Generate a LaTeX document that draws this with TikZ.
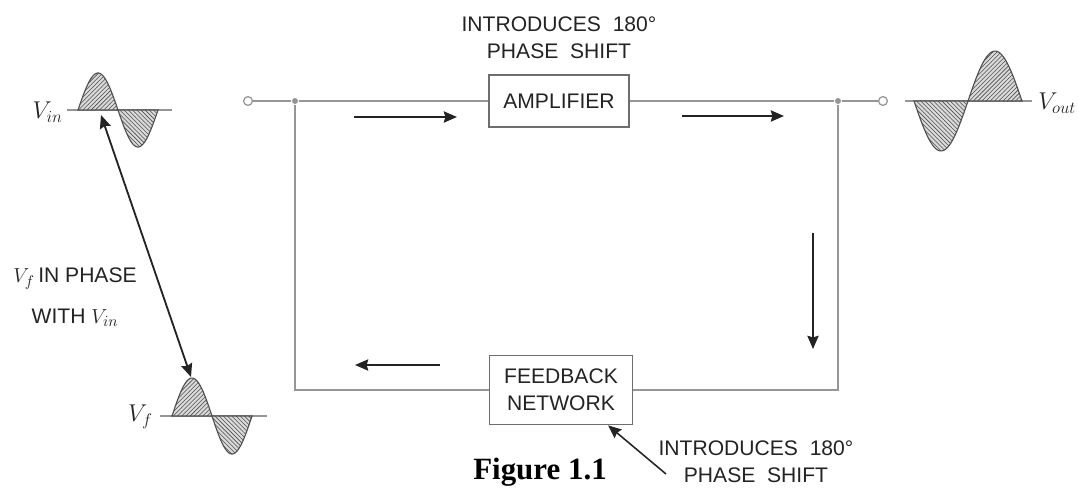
\documentclass[tikz,border=0pt]{standalone}
\usepackage{fontspec}
\setmainfont{Liberation Serif}
\setsansfont{Liberation Sans}
\usepackage{tikz}
\usetikzlibrary{positioning}
\usetikzlibrary{arrows.meta}
\usetikzlibrary{patterns}
\usetikzlibrary{calc}

\begin{document}
\begin{tikzpicture}[x=0.025cm,y=-0.025cm,>={Stealth[length=0.33cm,width=0.28cm,inset=0.04cm]},thick,
	box node/.style={rectangle,draw=boxgray,line width=1.2pt,fill=white,inner sep=0pt,
		font=\sffamily\fontsize{15}{19}\selectfont,text=ink,align=center},
	dot node/.style={circle,fill=wiregray,inner sep=0pt,minimum size=0.15cm},
	term node/.style={circle,draw=wiregray,fill=white,line width=0.9pt,inner sep=0pt,minimum size=0.22cm},
	note node/.style={font=\sffamily\fontsize{15}{19}\selectfont,text=ink,align=center},
	wire/.style={wiregray,line width=0.9pt},
	flow/.style={->,ink,line width=1.3pt}]
	
	\definecolor{wiregray}{RGB}{150,150,150}
	\definecolor{boxgray}{RGB}{110,110,110}
	\definecolor{ink}{RGB}{35,35,35}
	\definecolor{lobe}{RGB}{218,218,218}
	\definecolor{hatch}{RGB}{80,80,80}
	
	\useasboundingbox (0,0) rectangle (1079,488);
	
	\node[term node] (in) at (248,101) {};
	\node[dot node] (jl) at (295,101) {};
	\node[box node,minimum width=3.5cm,minimum height=1.3cm] (amp) at (559,101) {AMPLIFIER};
	\node[dot node] (jr) at (838,101) {};
	\node[term node] (out) at (883,101) {};
	\node[box node,minimum width=3.575cm,minimum height=1.725cm] (fb) at (561,390) {FEEDBACK\\NETWORK};
	
	\node[note node,above=0.25cm of amp] (ampnote) {INTRODUCES\ \ 180°\\PHASE\ \ SHIFT};
	\node[note node] (fbnote) at (756,462) {INTRODUCES\ \ 180°\\PHASE\ \ SHIFT};
	
	\draw[wire] (in) -- (jl) -- (amp) -- (jr) -- (out);
	\draw[wire] (jr) |- (fb) -| (jl);
	
	\coordinate (f1a) at (354,117);
	\coordinate (f1b) at (457,117);
	\coordinate (f2a) at (682,116);
	\coordinate (f2b) at (784,116);
	\coordinate (f3a) at (813,233);
	\coordinate (f3b) at (813,349);
	\coordinate (f4a) at (440,365);
	\coordinate (f4b) at (355,365);
	\path[flow]
	(f1a) edge (f1b)
	(f2a) edge (f2b)
	(f3a) edge (f3b)
	(f4a) edge (f4b);
	
	\coordinate (lead) at (666,474);
	\draw[flow,line width=1.1pt] (lead) -- ($(fb.south)!0.65!(fb.south east)$);
	
	\foreach \al/\ar/\wy/\px/\nx/\w/\h in {67/172/110/78/118/40/37,160/267/416/172/212/40/38,905/1032/101/968/914/54/50}{
		\draw[wire] (\al,\wy) -- (\ar,\wy);
		\draw[hatch,line width=0.8pt,preaction={fill=lobe},pattern=north east lines,pattern color=hatch]
		plot[domain=0:\w,samples=30] ({\px+\x},{\wy-\h*sin(180*\x/\w)}) -- cycle;
		\draw[hatch,line width=0.8pt,preaction={fill=lobe},pattern=north west lines,pattern color=hatch]
		plot[domain=0:\w,samples=30] ({\nx+\x},{\wy+\h*sin(180*\x/\w)}) -- cycle;
	}
	
	\node[anchor=east,text=ink,font=\fontsize{17}{20}\selectfont] (vin) at (68,112) {$V_{in}$};
	\node[anchor=east,text=ink,font=\fontsize{17}{20}\selectfont] (vf) at (158,417) {$V_{f}$};
	\node[anchor=west,text=ink,font=\fontsize{17}{20}\selectfont] (vout) at (1033,103) {$V_{out}$};
	\node[text=ink,align=center,font=\sffamily\fontsize{15}{29}\selectfont] (phase) at (75,297) {$V_f$\,IN PHASE\\WITH $V_{in}$};
	
	\coordinate (vinpt) at (101,115);
	\coordinate (vfpk) at (191,377);
	\draw[<->,ink,line width=1.3pt] (vinpt) -- (vfpk);
	
	\node[font=\bfseries\fontsize{22}{24}\selectfont] (fig) at (540,472) {Figure 1.1};
\end{tikzpicture}
\end{document}
